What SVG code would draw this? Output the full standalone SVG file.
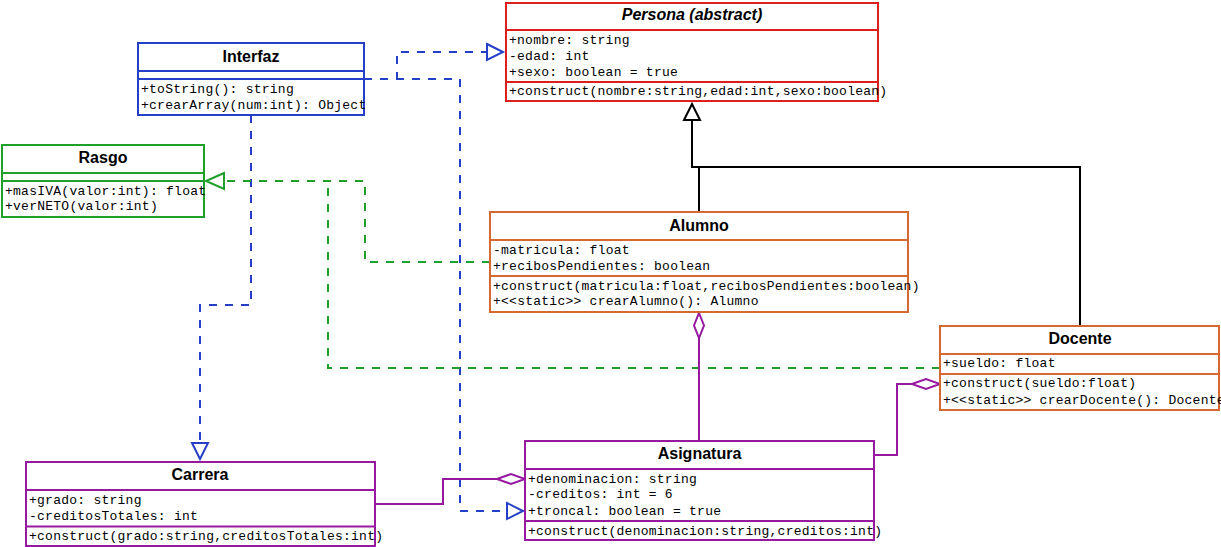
<svg xmlns="http://www.w3.org/2000/svg" width="1221" height="547" viewBox="0 0 1221 547">
<style>
.box{fill:#ffffff;stroke-width:2}
.sep{stroke-width:2;fill:none}
.t{font-family:"Liberation Sans",Arial,sans-serif;font-weight:bold;font-size:16px;text-anchor:middle;fill:#000}
.m{font-family:"Liberation Mono","Courier New",monospace;font-size:13px;letter-spacing:0.25px;fill:#000}
.blue{stroke:#2440C8}
.red{stroke:#DC1F1F}
.green{stroke:#1FA02A}
.orange{stroke:#D46A32}
.purple{stroke:#9619A0}
.blk{stroke:#000}
.ln{fill:none;stroke-width:2}
.dash{stroke-dasharray:8 8}
.tri{fill:#fff;stroke-width:2}
</style>
<rect width="1221" height="547" fill="#ffffff"/>
<g id="connectors">
  <!-- Interfaz to Persona -->
  <polyline class="ln dash blue" points="364,79 397,79 397,52 487,52"/>
  <polygon class="tri blue" points="487,44 503,52 487,60"/>
  <!-- Interfaz to Asignatura -->
  <polyline class="ln dash blue" points="364,79 460,79 460,511 507,511"/>
  <polygon class="tri blue" points="507,503 523,511 507,519"/>
  <!-- Interfaz to Carrera -->
  <polyline class="ln dash blue" points="251,115 251,305 200,305 200,443"/>
  <polygon class="tri blue" points="192,443 200,459 208,443"/>
  <!-- Alumno to Rasgo -->
  <polyline class="ln dash green" points="490,262 365,262 365,181 224,181"/>
  <polygon class="tri green" points="224,173 206,181 224,189"/>
  <!-- Docente to Rasgo -->
  <polyline class="ln dash green" points="940,368 328,368 328,181"/>
  <!-- Generalization -->
  <polyline class="ln blk" points="699,212 699,167 692,167 692,120"/>
  <polyline class="ln blk" points="1080,326 1080,167 692,167"/>
  <polygon class="tri blk" points="684,120 692,104 700,120"/>
  <!-- Aggregations -->
  <line class="ln purple" x1="699" y1="338" x2="699" y2="441"/>
  <polygon class="tri purple" points="699,313 704,325.5 699,338 694,325.5"/>
  <polyline class="ln purple" points="874,455 897,455 897,384 912,384"/>
  <polygon class="tri purple" points="912,384 926,379 940,384 926,389"/>
  <polyline class="ln purple" points="375,504 443,504 443,479 497,479"/>
  <polygon class="tri purple" points="497,479 511,474 525,479 511,484"/>
</g>
<g id="Persona">
  <rect class="box red" x="506" y="3" width="372" height="98"/>
  <line class="sep red" x1="506" y1="30" x2="878" y2="30"/>
  <line class="sep red" x1="506" y1="82" x2="878" y2="82"/>
  <text class="t" x="692" y="20" font-style="italic">Persona (abstract)</text>
  <text class="m" x="509" y="44">+nombre: string</text>
  <text class="m" x="509" y="60">-edad: int</text>
  <text class="m" x="509" y="76">+sexo: boolean = true</text>
  <text class="m" x="509" y="95">+construct(nombre:string,edad:int,sexo:boolean)</text>
</g>
<g id="Interfaz">
  <rect class="box blue" x="138" y="43" width="226" height="72"/>
  <line class="sep blue" x1="138" y1="71" x2="364" y2="71"/>
  <line class="sep blue" x1="138" y1="79" x2="364" y2="79"/>
  <text class="t" x="251" y="62">Interfaz</text>
  <text class="m" x="141" y="93">+toString(): string</text>
  <text class="m" x="141" y="108.5">+crearArray(num:int): Object</text>
</g>
<g id="Rasgo">
  <rect class="box green" x="2" y="145" width="202" height="72"/>
  <line class="sep green" x1="2" y1="173" x2="204" y2="173"/>
  <line class="sep green" x1="2" y1="181" x2="204" y2="181"/>
  <text class="t" x="103" y="163">Rasgo</text>
  <text class="m" x="5" y="194.5">+masIVA(valor:int): float</text>
  <text class="m" x="5" y="210">+verNETO(valor:int)</text>
</g>
<g id="Alumno">
  <rect class="box orange" x="490" y="212" width="418" height="100"/>
  <line class="sep orange" x1="490" y1="240" x2="908" y2="240"/>
  <line class="sep orange" x1="490" y1="276" x2="908" y2="276"/>
  <text class="t" x="699" y="231">Alumno</text>
  <text class="m" x="493" y="253.5">-matricula: float</text>
  <text class="m" x="493" y="269.5">+recibosPendientes: boolean</text>
  <text class="m" x="493" y="290">+construct(matricula:float,recibosPendientes:boolean)</text>
  <text class="m" x="493" y="305">+&lt;&lt;static&gt;&gt; crearAlumno(): Alumno</text>
</g>
<g id="Docente">
  <rect class="box orange" x="940" y="326" width="279" height="84"/>
  <line class="sep orange" x1="940" y1="354" x2="1219" y2="354"/>
  <line class="sep orange" x1="940" y1="374" x2="1219" y2="374"/>
  <text class="t" x="1080" y="344">Docente</text>
  <text class="m" x="943" y="367">+sueldo: float</text>
  <text class="m" x="943" y="387">+construct(sueldo:float)</text>
  <text class="m" x="943" y="404">+&lt;&lt;static&gt;&gt; crearDocente(): Docente</text>
</g>
<g id="Carrera">
  <rect class="box purple" x="26" y="462" width="349" height="84"/>
  <line class="sep purple" x1="26" y1="490" x2="375" y2="490"/>
  <line class="sep purple" x1="26" y1="526.5" x2="375" y2="526.5"/>
  <text class="t" x="200" y="480">Carrera</text>
  <text class="m" x="29" y="504">+grado: string</text>
  <text class="m" x="29" y="519.5">-creditosTotales: int</text>
  <text class="m" x="29" y="539.5">+construct(grado:string,creditosTotales:int)</text>
</g>
<g id="Asignatura">
  <rect class="box purple" x="525" y="441" width="349" height="99"/>
  <line class="sep purple" x1="525" y1="469" x2="874" y2="469"/>
  <line class="sep purple" x1="525" y1="521" x2="874" y2="521"/>
  <text class="t" x="699.5" y="459">Asignatura</text>
  <text class="m" x="528" y="483">+denominacion: string</text>
  <text class="m" x="528" y="498">-creditos: int = 6</text>
  <text class="m" x="528" y="514.5">+troncal: boolean = true</text>
  <text class="m" x="528" y="534.5">+construct(denominacion:string,creditos:int)</text>
</g>
</svg>
